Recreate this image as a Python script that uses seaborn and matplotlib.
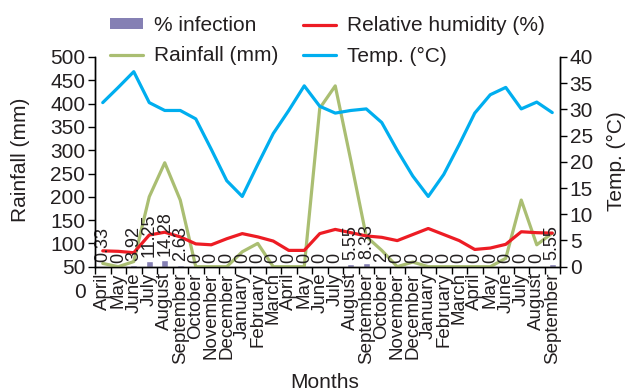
import matplotlib
matplotlib.use("Agg")
import matplotlib.pyplot as plt
import seaborn as sns
import pandas as pd
import numpy as np
from matplotlib.patches import Patch
from matplotlib.lines import Line2D

# ---------------- data ----------------
months = ["April", "May", "June", "July", "August", "September", "October",
          "November", "December", "January", "February", "March",
          "April", "May", "June", "July", "August", "September", "October",
          "November", "December", "January", "February", "March",
          "April", "May", "June", "July", "August", "September"]
infection = [0.33, 0, 3.92, 11.25, 14.28, 2.63, 0, 0, 0, 0, 0, 0,
             0, 0, 0, 0, 5.55, 8.33, 2, 0, 0, 0, 0, 0,
             0, 0, 0, 0, 0, 5.55]
rainfall = [7, 0, 11, 150, 223, 143, 0, 0, 0, 32, 50, 0,
            0, 0, 340, 388, 229, 65, 35, 0, 10, 0, 0, 0,
            0, 0, 18, 143, 47, 72]
humidity = [34, 33, 30, 68, 74, 64, 49, 47, 60, 71, 64, 55,
            35, 35, 71, 80, 73, 66, 63, 56, 69, 82, 69, 56,
            37, 40, 48, 75, 73, 72]
temperature = [31.3, 34.2, 37.2, 31.3, 29.8, 29.8, 28.2, 22.4, 16.4, 13.4, 19.5, 25.4,
               29.8, 34.5, 30.6, 29.3, 29.8, 30.1, 27.5, 22.2, 17.3, 13.4, 17.6, 23.3,
               29.3, 32.8, 34.2, 30.1, 31.4, 29.4]
left_tick_values = [0, 50, 100, 150, 200, 250, 300, 350, 400, 450]
left_tick_labels = ["50", "100", "150", "200", "250", "300", "350", "400", "450", "500"]
left_extra_label = "0"
right_tick_values = [0, 5, 10, 15, 20, 25, 30, 35, 40]

BAR = "#8580B4"
GREEN = "#AABE72"
RED = "#ED1C24"
BLUE = "#00AEEF"
TXT = "#231F20"

sns.set_theme(style="white")
plt.rcParams['font.family'] = ['Liberation Sans', 'DejaVu Sans']
plt.rcParams['text.color'] = TXT
plt.rcParams['axes.labelcolor'] = TXT
plt.rcParams['xtick.color'] = TXT
plt.rcParams['ytick.color'] = TXT

df = pd.DataFrame({"idx": np.arange(len(months)), "month": months,
                   "infection": infection, "rainfall": rainfall,
                   "humidity": humidity, "temperature": temperature})

W, H = 629, 392
fig = plt.figure(figsize=(W / 100, H / 100), dpi=100)
L, R, T, B = 95, 560, 57, 266.7
ax = fig.add_axes([L / W, 1 - B / H, (R - L) / W, (B - T) / H])

sns.barplot(data=df, x="idx", y="infection", color=BAR, width=0.45,
            saturation=1, ax=ax, zorder=2)
sns.lineplot(data=df, x="idx", y="rainfall", color=GREEN, lw=2.3, ax=ax, zorder=3)
sns.lineplot(data=df, x="idx", y="humidity", color=RED, lw=2.3, ax=ax, zorder=3)

ax.bar_label(ax.containers[0], labels=[f"{v:g}" for v in infection],
             rotation=90, padding=3, fontsize=13, color=TXT, zorder=5)

ax2 = ax.twinx()
sns.lineplot(data=df, x="idx", y="temperature", color=BLUE, lw=2.3, ax=ax2)

# axes limits & ticks
ax.set_xlim(-0.5, len(months) - 0.5)
ax.set_ylim(0, 450)
ax.set_yticks(left_tick_values)
ax.set_yticklabels(left_tick_labels)
ax.text(-0.02, -56, left_extra_label, transform=ax.get_yaxis_transform(),
        ha="right", va="center", fontsize=15, color=TXT, clip_on=False)
ax2.set_ylim(0, 40)
ax2.set_yticks(right_tick_values)

ax.set_xticks(np.arange(len(months)))
ax.set_xticklabels(months, rotation=90, fontsize=13.5)
ax.set_xticks(np.arange(-0.5, len(months), 1), minor=True)
ax.tick_params(axis="x", which="major", length=0, pad=4)
ax.tick_params(axis="x", which="minor", length=5, width=1, direction="out",
               color="black", bottom=True)
ax.tick_params(axis="y", length=5, width=1, direction="out", labelsize=15,
               pad=2, left=True, color="black")
ax2.tick_params(axis="y", length=5, width=1, direction="out", labelsize=15,
                pad=2, right=True, color="black")

for a in (ax, ax2):
    a.spines["top"].set_visible(False)
    for s in ("left", "right", "bottom"):
        a.spines[s].set_color("black")
        a.spines[s].set_linewidth(1)
    a.grid(False)

ax.set_xlabel("")
ax.set_ylabel("")
ax2.set_ylabel("")
fig.text(21 / W, 1 - 160 / H, "Rainfall (mm)", rotation=90, ha="center",
         va="center", fontsize=15)
fig.text(616 / W, 1 - 161 / H, "Temp. (°C)", rotation=90, ha="center",
         va="center", fontsize=15)
fig.text(325 / W, 1 - 382 / H, "Months", ha="center", va="center", fontsize=15)

handles = [Patch(facecolor=BAR, edgecolor="none"),
           Line2D([], [], color=GREEN, lw=2.3),
           Line2D([], [], color=RED, lw=2.3),
           Line2D([], [], color=BLUE, lw=2.3)]
labels = ["% infection", "Rainfall (mm)", "Relative humidity (%)", "Temp. (°C)"]
fig.legend(handles, labels, ncol=2, loc="upper left",
           bbox_to_anchor=(110 / W, 1 - 16 / H), frameon=False, fontsize=15,
           handlelength=1.6, handleheight=0.4, handletextpad=0.5,
           columnspacing=1.2, labelspacing=0.55, borderpad=0, borderaxespad=0)

fig.savefig("out.png", dpi=100)
